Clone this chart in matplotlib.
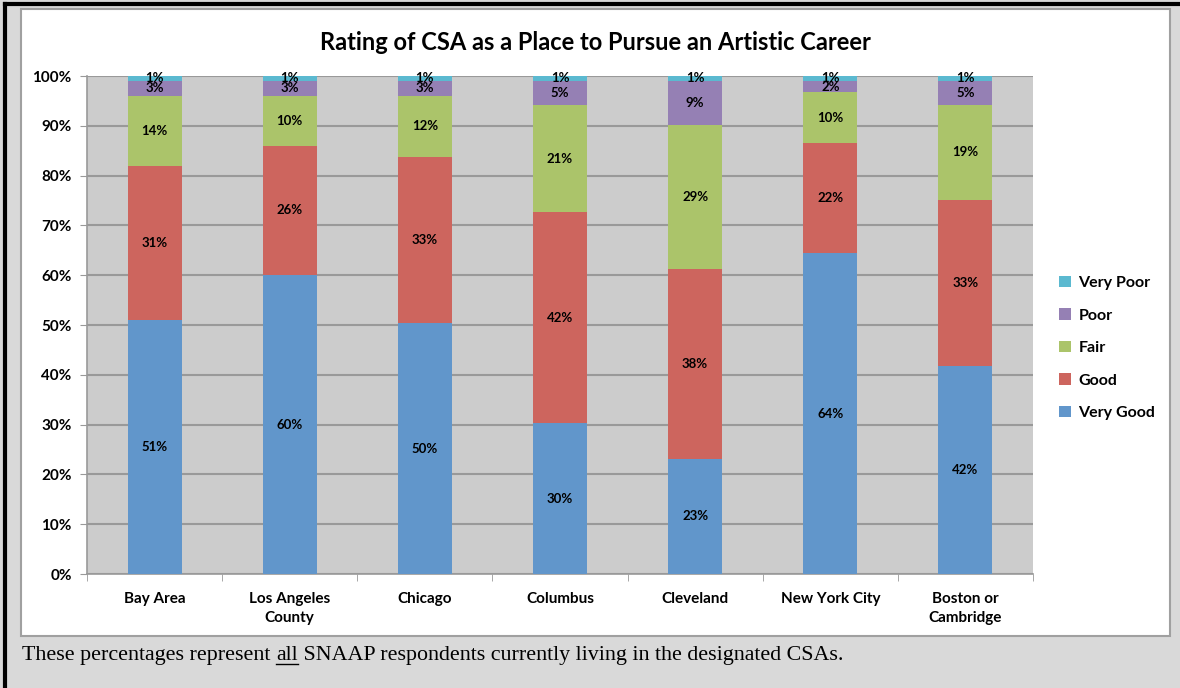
import numpy as np
import matplotlib.pyplot as plt
from matplotlib.patches import Rectangle
from matplotlib.lines import Line2D

# data (percent of respondents)
areas = ['Bay Area', 'Los Angeles\nCounty', 'Chicago', 'Columbus', 'Cleveland',
         'New York City', 'Boston or\nCambridge']
very_good = [51.0, 60.0, 50.4, 30.3, 23.1, 64.4, 41.8]
good = [31.0, 26.0, 33.4, 42.4, 38.1, 22.2, 33.4]
fair = [14.0, 10.0, 12.2, 21.4, 29.0, 10.1, 19.0]
poor = [3.0, 3.0, 3.0, 4.9, 8.8, 2.3, 4.8]
very_poor = [1.0, 1.0, 1.0, 1.0, 1.0, 1.0, 1.0]

series = ['Very Good', 'Good', 'Fair', 'Poor', 'Very Poor']
valores = [very_good, good, fair, poor, very_poor]
cores = ['#6196CB', '#CD655E', '#ABC46A', '#9580B4', '#5BB9D0']

W, H = 1180, 688
fig = plt.figure(figsize=(W / 100, H / 100), dpi=100)
fig.patch.set_facecolor('#D9D9D9')

# moldura preta (topo e esquerda) e caixa branca do grafico
fig.add_artist(Line2D([5/W, 5/W], [0, 1 - 4/H], color='black', lw=3, zorder=-5))
fig.add_artist(Line2D([5/W, 1], [1 - 4/H, 1 - 4/H], color='black', lw=3, zorder=-5))
fig.add_artist(Rectangle((21/W, 1 - 636/H), (1170 - 21)/W, (636 - 9)/H,
                         facecolor='white', edgecolor='#A0A0A0', lw=1.5, zorder=-10))

ax = fig.add_axes([87/W, 1 - 574/H, (1033 - 87)/W, (574 - 76)/H])
ax.set_facecolor('#CCCCCC')

x = np.arange(len(areas))
base = np.zeros(len(areas))
for nome, vals, cor in zip(series, valores, cores):
    vals = np.array(vals)
    ax.bar(x, vals, 0.4, bottom=base, color=cor, label=nome, zorder=3)
    for xi, b, v in zip(x, base, vals):
        ax.text(xi, b + v / 2, f'{round(v)}%', ha='center', va='center',
                fontsize=9.5, fontweight='bold', family='Lato', zorder=4)
    base = base + vals

ax.set_xlim(-0.5, len(areas) - 0.5)
ax.set_ylim(0, 100)
ax.set_yticks(np.arange(0, 101, 10))
ax.set_yticklabels([f'{v}%' for v in range(0, 101, 10)], fontsize=11,
                   fontweight='bold', family='Lato')
ax.set_xticks(x)
ax.set_xticklabels(areas, fontsize=11, fontweight='bold', family='Lato',
                   linespacing=1.45)
ax.set_xticks(np.arange(-0.5, len(areas)), minor=True)
ax.tick_params(axis='x', which='major', length=0, pad=13)
ax.tick_params(axis='x', which='minor', length=5, color='#999999')
ax.tick_params(axis='y', length=5, color='#999999', pad=6)
ax.grid(axis='y', color='#999999', lw=1.5, zorder=1)
for lado in ['top', 'right']:
    ax.spines[lado].set_visible(False)
for lado in ['left', 'bottom']:
    ax.spines[lado].set_color('#999999')
    ax.spines[lado].set_linewidth(1.2)

fig.text(595/W, 1 - 43/H, 'Rating of CSA as a Place to Pursue an Artistic Career',
         ha='center', va='center', fontsize=17, fontweight='bold', family='Lato')

handles, labels = ax.get_legend_handles_labels()
leg = fig.legend(handles[::-1], labels[::-1], loc='center left',
                 bbox_to_anchor=(1045/W, 1 - 348/H), frameon=False,
                 prop={'family': 'Lato', 'weight': 'bold', 'size': 11.5},
                 handlelength=0.7, handleheight=0.7, handletextpad=0.5,
                 labelspacing=1.15)

# legenda de rodape, com "all" sublinhado
r = fig.canvas.get_renderer()
fonte = dict(fontsize=15.8, family='Liberation Serif', va='baseline')
y_base = 1 - 660/H
t1 = fig.text(22/W, y_base, 'These percentages represent ', ha='left', **fonte)
x1 = t1.get_window_extent(r).x1
t2 = fig.text(x1/W, y_base, 'all', ha='left', **fonte)
x2 = t2.get_window_extent(r).x1
fig.text(x2/W, y_base, ' SNAAP respondents currently living in the designated CSAs.',
         ha='left', **fonte)
fig.add_artist(Line2D([x1/W, x2/W], [1 - 664/H, 1 - 664/H], color='black', lw=1))

fig.savefig('out.png', dpi=100, facecolor=fig.get_facecolor())
